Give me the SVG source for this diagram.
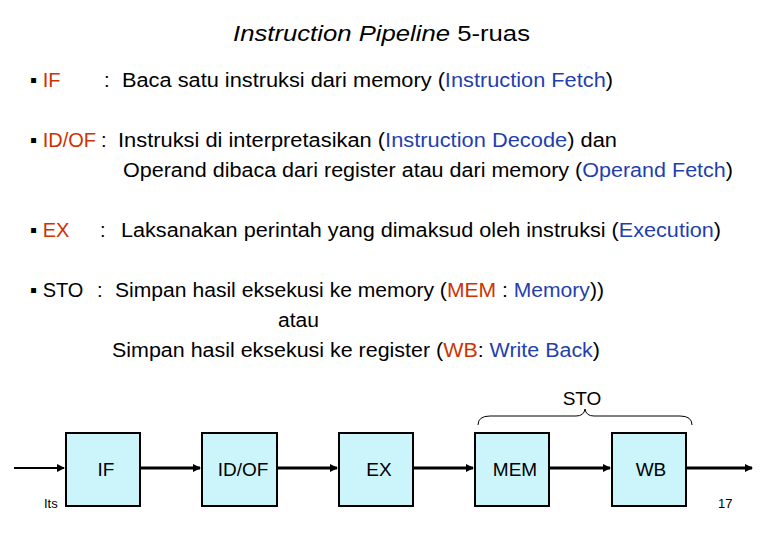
<svg xmlns="http://www.w3.org/2000/svg" width="780" height="540" viewBox="0 0 780 540">
<style>
text{font-family:"Liberation Sans",Arial,sans-serif;font-size:20px;fill:#000}
.r{fill:#cc3300}.b{fill:#1f3fae}
.box{fill:#ccf5fb;stroke:#000;stroke-width:2}
.lbl{text-anchor:middle;font-size:19px}
.ln{stroke:#000;stroke-width:3;fill:none}
.sm{font-size:13px}
</style>
<defs><marker id="ah" markerWidth="8" markerHeight="8" refX="7" refY="4" orient="auto" markerUnits="userSpaceOnUse"><path d="M0,0 L8,4 L0,8z" fill="#000"/></marker></defs>
<rect width="780" height="540" fill="#fff"/>
<text x="233" y="41" style="font-size:22px" textLength="297" lengthAdjust="spacingAndGlyphs"><tspan font-style="italic">Instruction Pipeline</tspan> 5-ruas</text>
<text x="30" y="87">▪ <tspan class="r">IF</tspan></text>
<text x="104" y="87">:</text>
<text x="122" y="87" textLength="491" lengthAdjust="spacingAndGlyphs">Baca satu instruksi dari memory (<tspan class="b">Instruction Fetch</tspan>)</text>
<text x="30" y="147">▪ <tspan class="r">ID/OF</tspan></text>
<text x="101" y="147">:</text>
<text x="118" y="147" textLength="499" lengthAdjust="spacingAndGlyphs">Instruksi di interpretasikan (<tspan class="b">Instruction Decode</tspan>) dan</text>
<text x="123" y="177" textLength="610" lengthAdjust="spacingAndGlyphs">Operand dibaca dari register atau dari memory  (<tspan class="b">Operand Fetch</tspan>)</text>
<text x="30" y="237">▪ <tspan class="r">EX</tspan></text>
<text x="100" y="237">:</text>
<text x="121" y="237" textLength="600" lengthAdjust="spacingAndGlyphs">Laksanakan perintah yang dimaksud oleh instruksi (<tspan class="b">Execution</tspan>)</text>
<text x="30" y="297">▪ STO</text>
<text x="97" y="297">:</text>
<text x="115" y="297" textLength="489" lengthAdjust="spacingAndGlyphs">Simpan hasil eksekusi ke memory (<tspan class="r">MEM</tspan> : <tspan class="b">Memory</tspan>))</text>
<text x="278" y="327" textLength="41" lengthAdjust="spacingAndGlyphs">atau</text>
<text x="112" y="357" textLength="488" lengthAdjust="spacingAndGlyphs">Simpan hasil eksekusi ke register (<tspan class="r">WB</tspan>: <tspan class="b">Write Back</tspan>)</text>
<text x="582" y="405" class="lbl">STO</text>
<path d="M478,425 Q478,416 490,416 L576,416 Q584,416 585,409 Q586,416 594,416 L680,416 Q692,416 692,425" fill="none" stroke="#000" stroke-width="1"/>
<g id="connectors">
<line class="ln" x1="14" y1="468" x2="64" y2="468" marker-end="url(#ah)" style="stroke-width:2"/>
<line class="ln" x1="140" y1="468" x2="200" y2="468" marker-end="url(#ah)"/>
<line class="ln" x1="277" y1="468" x2="337" y2="468" marker-end="url(#ah)"/>
<line class="ln" x1="413" y1="468" x2="473" y2="468" marker-end="url(#ah)"/>
<line class="ln" x1="549" y1="468" x2="610" y2="468" marker-end="url(#ah)"/>
<line class="ln" x1="686" y1="468" x2="752" y2="468" marker-end="url(#ah)"/>
</g>
<g id="n-if"><rect class="box" x="66" y="433" width="74" height="73"/><text class="lbl" x="106" y="476">IF</text></g>
<g id="n-idof"><rect class="box" x="202" y="433" width="75" height="73"/><text class="lbl" x="243" y="476">ID/OF</text></g>
<g id="n-ex"><rect class="box" x="339" y="433" width="74" height="73"/><text class="lbl" x="379" y="476">EX</text></g>
<g id="n-mem"><rect class="box" x="475" y="433" width="74" height="73"/><text class="lbl" x="515" y="476">MEM</text></g>
<g id="n-wb"><rect class="box" x="612" y="433" width="74" height="73"/><text class="lbl" x="651" y="476">WB</text></g>
<text class="sm" x="44" y="508">Its</text>
<text class="sm" x="718" y="508">17</text>
</svg>
